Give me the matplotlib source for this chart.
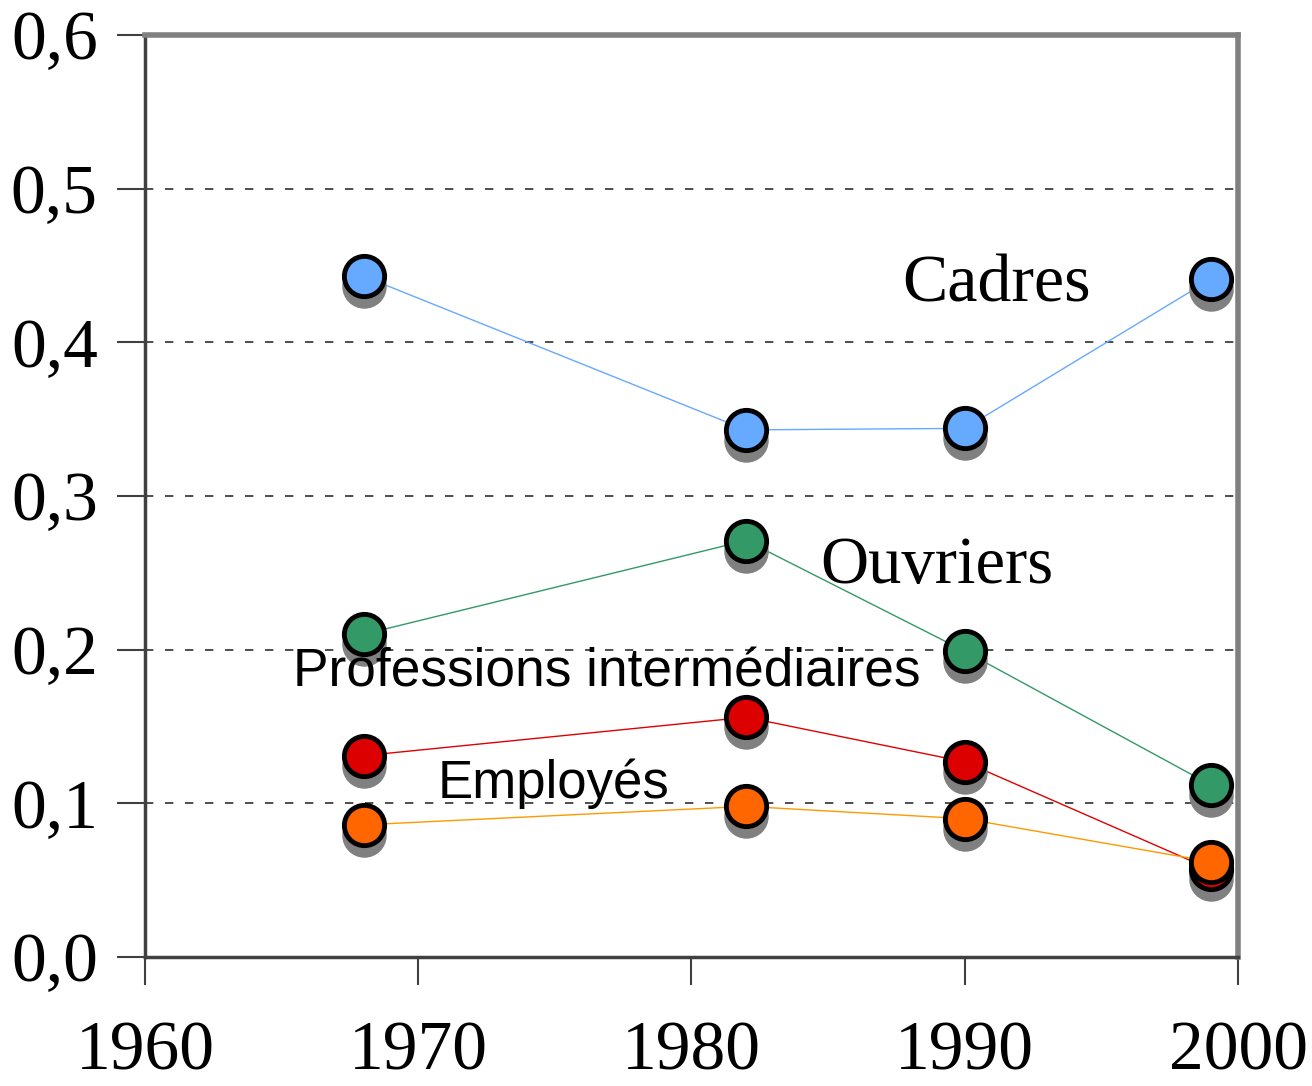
import matplotlib
matplotlib.use("Agg")
import matplotlib.pyplot as plt
import matplotlib.transforms as mtransforms

years = [1968, 1982, 1990, 1999]
cadres = [0.443, 0.343, 0.344, 0.441]
ouvriers = [0.210, 0.271, 0.199, 0.112]
prof_inter = [0.131, 0.156, 0.127, 0.057]
employes = [0.086, 0.098, 0.090, 0.062]

x_ticks = [1960, 1970, 1980, 1990, 2000]
y_ticks = [0.0, 0.1, 0.2, 0.3, 0.4, 0.5, 0.6]
y_labels = ["0,0", "0,1", "0,2", "0,3", "0,4", "0,5", "0,6"]

series = [
    (cadres, "#66aaff", "#66aaff"),
    (ouvriers, "#339966", "#339966"),
    (prof_inter, "#e00000", "#dd0000"),
    (employes, "#ff9900", "#ff6600"),
]

fig = plt.figure(figsize=(13.12, 10.86), dpi=100)
ax = fig.add_axes([0.1105, 0.1188, 0.8331, 0.8490])

# drop shadow below each marker
shadow = mtransforms.offset_copy(ax.transData, fig=fig, x=0, y=-10, units="dots")

for values, line_col, marker_col in series:
    ax.plot(years, values, color=line_col, linewidth=1, zorder=2)
    ax.plot(years, values, linestyle="none", marker="o", markersize=31,
            color="#808080", markeredgecolor="#808080", transform=shadow, zorder=3)
    ax.plot(years, values, linestyle="none", marker="o", markersize=29,
            markerfacecolor=marker_col, markeredgecolor="black",
            markeredgewidth=3.5, zorder=4)

ax.set_xlim(1960, 2000)
ax.set_ylim(0, 0.6)
ax.set_xticks(x_ticks)
ax.set_yticks(y_ticks)
ax.set_yticklabels(y_labels)

serif = "Liberation Serif"
for lab in ax.get_xticklabels() + ax.get_yticklabels():
    lab.set_fontfamily(serif)
    lab.set_fontsize(50)

ax.tick_params(axis="both", length=20, width=1.5, color="#404040", direction="out")
ax.tick_params(axis="x", pad=26)
ax.tick_params(axis="y", pad=14)

for y in y_ticks[1:-1]:
    ax.axhline(y, color="#303030", linestyle=(0, (5, 7)), linewidth=1.2, zorder=1)

ax.spines["left"].set_color("#404040")
ax.spines["left"].set_linewidth(2.5)
ax.spines["bottom"].set_color("#404040")
ax.spines["bottom"].set_linewidth(2.5)
ax.spines["top"].set_color("#808080")
ax.spines["top"].set_linewidth(4)
ax.spines["right"].set_color("#808080")
ax.spines["right"].set_linewidth(4)

ax.text(1987.7, 0.437, "Cadres", fontfamily=serif, fontsize=49, va="center", ha="left")
ax.text(1984.7, 0.254, "Ouvriers", fontfamily=serif, fontsize=48, va="center", ha="left")
ax.text(1965.4, 0.185, "Professions intermédiaires", fontfamily="Liberation Sans",
        fontsize=38.3, va="center", ha="left")
ax.text(1970.7, 0.113, "Employés", fontfamily="Liberation Sans",
        fontsize=38, va="center", ha="left")

fig.savefig("out.png", dpi=100)
